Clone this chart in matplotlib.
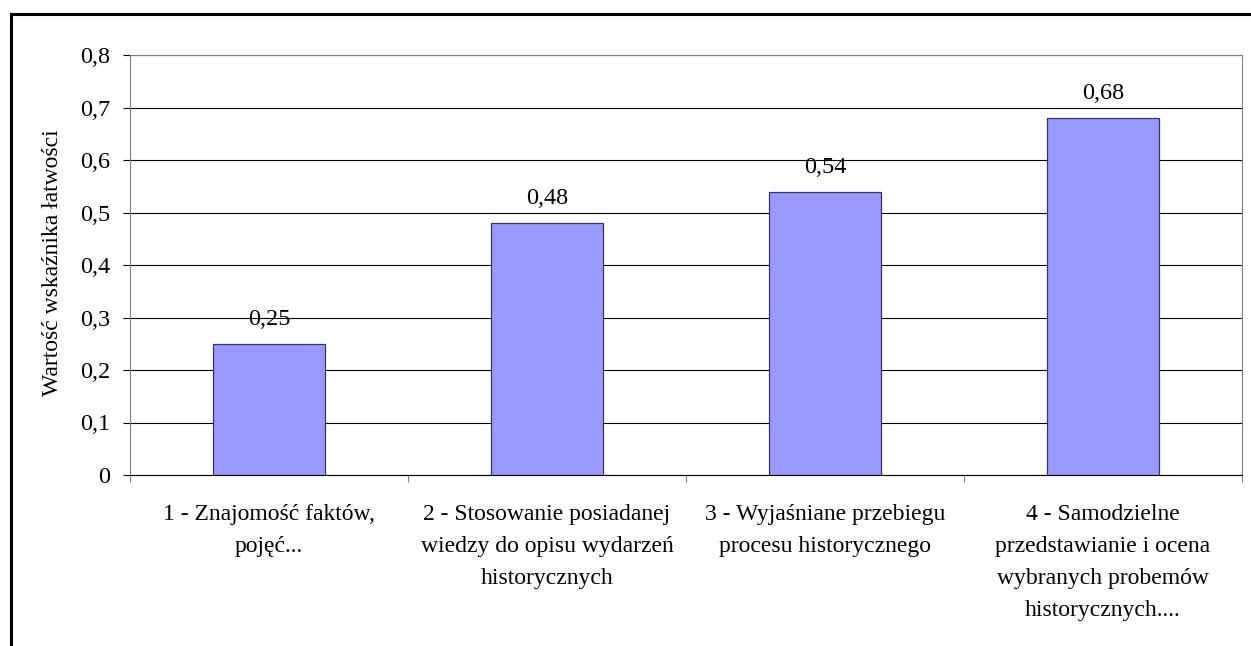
import matplotlib.pyplot as plt
import matplotlib.patches as patches
from matplotlib.ticker import FixedLocator, FuncFormatter

categories = [
    "1 - Znajomość faktów,\npojęć...",
    "2 - Stosowanie posiadanej\nwiedzy do opisu wydarzeń\nhistorycznych",
    "3 - Wyjaśniane przebiegu\nprocesu historycznego",
    "4 - Samodzielne\nprzedstawianie i ocena\nwybranych probemów\nhistorycznych....",
]
values = [0.25, 0.48, 0.54, 0.68]
y_ticks = [0, 0.1, 0.2, 0.3, 0.4, 0.5, 0.6, 0.7, 0.8]
y_label = "Wartość wskaźnika łatwości"


def comma(v, pos=None):
    s = f"{v:.2f}".rstrip("0").rstrip(".")
    return s.replace(".", ",")


def main():
    plt.rcParams["font.family"] = ["Liberation Serif", "DejaVu Serif"]
    W, H = 1251, 646
    fig = plt.figure(figsize=(W / 100, H / 100), dpi=100)
    ax = fig.add_axes([130 / W, (H - 475) / H, (1242 - 130) / W, (475 - 55) / H])

    x = list(range(len(values)))
    bars = ax.bar(x, values, width=0.4, color="#9999FF", edgecolor="#333366", linewidth=0.9, zorder=3)

    for b, v in zip(bars, values):
        ax.annotate(comma(v), (b.get_x() + b.get_width() / 2, v), xytext=(0, 13.5),
                    textcoords="offset points", ha="center", va="baseline", fontsize=17.5)

    ax.set_xlim(-0.5, len(values) - 0.5)
    ax.set_ylim(0, 0.8)
    ax.set_yticks(y_ticks)
    ax.yaxis.set_major_formatter(FuncFormatter(comma))
    ax.yaxis.grid(True, color="black", linewidth=0.8, zorder=0)
    ax.set_axisbelow(True)

    ax.set_xticks(x)
    ax.set_xticklabels(categories, fontsize=17, linespacing=1.69, va="top")
    ax.xaxis.set_minor_locator(FixedLocator([i - 0.5 for i in range(len(values) + 1)]))
    ax.tick_params(axis="x", which="major", length=0, pad=21)
    ax.tick_params(axis="x", which="minor", length=5, width=0.8, color="#808080", direction="out")
    ax.tick_params(axis="y", length=5, width=0.8, color="black", direction="out", labelsize=17.5, pad=9)

    for side in ("left", "top", "right"):
        ax.spines[side].set_color("#808080")
        ax.spines[side].set_linewidth(0.8)
    ax.spines["bottom"].set_color("black")
    ax.spines["bottom"].set_linewidth(0.8)

    fig.text(52 / W, (H - 263) / H, y_label, rotation=90, ha="center", va="center", fontsize=17)

    # outer chart border (only top and left visible in the crop)
    fig.patches.append(patches.Rectangle((11 / W, -0.1), 2, (H - 14) / H + 0.1,
                                         transform=fig.transFigure, fill=False,
                                         edgecolor="black", linewidth=2.2))

    fig.savefig("out.png", dpi=100)


if __name__ == "__main__":
    main()
